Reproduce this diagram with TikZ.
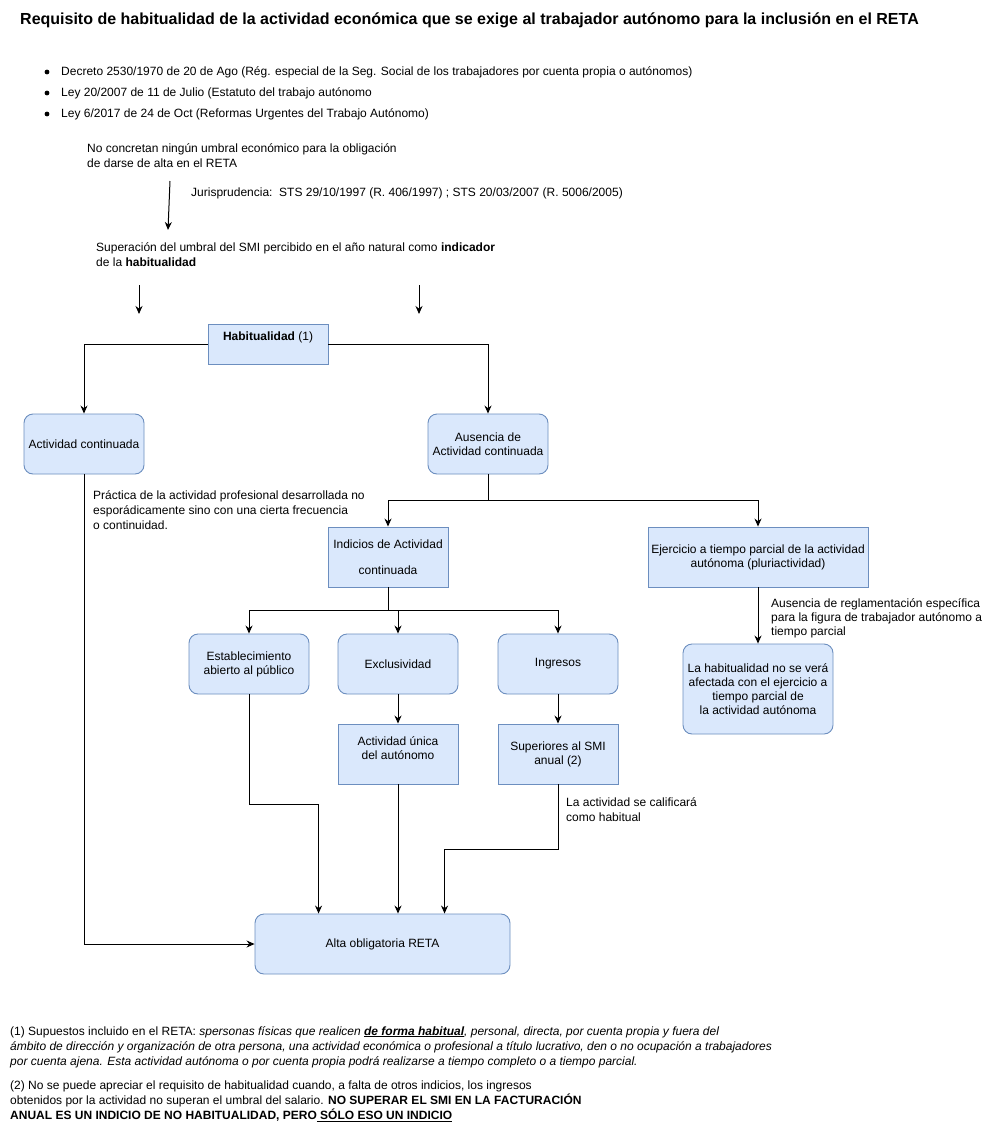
\documentclass[tikz,border=0pt]{standalone}
\usepackage{fontspec}
\setmainfont{Liberation Sans}
\usetikzlibrary{arrows.meta,calc}
\definecolor{boxfill}{HTML}{DAE8FC}
\definecolor{boxline}{HTML}{6C8EBF}
\begin{document}
\begin{tikzpicture}[x=1pt,y=-1pt,
  font=\fontsize{12}{15}\selectfont,
  sqbox/.style={draw=boxline,fill=boxfill,line width=0.9pt,minimum width=120pt,minimum height=60pt,inner sep=2pt,align=center,font=\fontsize{12}{14}\selectfont},
  rbox/.style={sqbox,rounded corners=9pt},
  arr/.style={-{Stealth[length=8pt,width=7pt]},line width=1pt},
  ln/.style={line width=1pt},
  txt/.style={inner sep=0pt,anchor=north west,align=left},
  bul/.style={inner sep=0pt,anchor=west},
  lbl/.style={align=center,inner sep=0pt,font=\fontsize{12}{14}\selectfont},
]
\fill[white] (0,0) rectangle (1002,1127);
\useasboundingbox (0,0) rectangle (1002,1127);

% title
\node[bul,font=\fontsize{16}{19}\selectfont\bfseries] (title) at (20,20) {Requisito de habitualidad de la actividad económica que se exige al trabajador autónomo para la inclusión en el RETA};

% bullets
\fill (47,72) circle (2.4);
\fill (47,93) circle (2.4);
\fill (47,114) circle (2.4);
\node[bul] (b1) at (61,72) {Decreto 2530/1970 de 20 de Ago (Rég. especial de la Seg. Social de los trabajadores por cuenta propia o autónomos)};
\node[bul] (b2) at (61,93) {Ley 20/2007 de 11 de Julio (Estatuto del trabajo autónomo};
\node[bul] (b3) at (61,114) {Ley 6/2017 de 24 de Oct (Reformas Urgentes del Trabajo Autónomo)};

% free texts
\node[txt] (nocon) at (87,143) {No concretan ningún umbral económico para la obligación\\de darse de alta en el RETA};
\node[bul] (juris) at (191,193) {Jurisprudencia:\ \ STS 29/10/1997 (R. 406/1997) ; STS 20/03/2007 (R. 5006/2005)};
\node[txt] (super) at (96,242) {Superación del umbral del SMI percibido en el año natural como \textbf{indicador}\\de la \textbf{habitualidad}};
\node[txt] (pract) at (93,490) {Práctica de la actividad profesional desarrollada no\\esporádicamente sino con una cierta frecuencia\\o continuidad.};
\node[txt] (calif) at (566,797) {La actividad se calificará\\como habitual};
\node[txt,font=\fontsize{12}{14}\selectfont] (regl) at (771,598) {Ausencia de reglamentación específica\\para la figura de trabajador autónomo a\\tiempo parcial};

% free arrows
\coordinate (a1s) at (170,181);
\coordinate (a1e) at (168,230);
\draw[arr] (a1s) -- (a1e);
\coordinate (a2s) at (139,285);
\coordinate (a2e) at (139,314);
\draw[arr] (a2s) -- (a2e);
\coordinate (a3s) at (419,285);
\coordinate (a3e) at (419,314);
\draw[arr] (a3s) -- (a3e);

% boxes
\node[sqbox,minimum height=40pt,label={[lbl,yshift=7pt]center:{\textbf{Habitualidad} (1)}}] (hab) at (268,344) {};
\node[rbox] (actc) at (84,444) {Actividad continuada};
\node[rbox] (aus) at (488,444) {Ausencia de\\Actividad continuada};
\node[sqbox] (ind) at (388,557) {Indicios de Actividad\\[12pt]continuada};
\node[sqbox,minimum width=220pt] (eje) at (758,557) {Ejercicio a tiempo parcial de la actividad\\autónoma (pluriactividad)};
\node[rbox] (est) at (249,664) {Establecimiento\\abierto al público};
\node[rbox] (exc) at (398,664) {Exclusividad};
\node[rbox] (ing) at (558,664) {Ingresos};
\node[sqbox,label={[lbl,yshift=6pt]center:{Actividad única\\del autónomo}}] (uni) at (398,754) {};
\node[sqbox] (sup) at (558,754) {Superiores al SMI\\anual (2)};
\node[rbox,minimum width=150pt,minimum height=90pt] (lahab) at (758,689) {La habitualidad no se verá\\afectada con el ejercicio a\\tiempo parcial de\\la actividad autónoma};
\node[rbox,minimum width=255pt] (alta) at (382.5,944) {Alta obligatoria RETA};

% connectors
\draw[arr] (hab.west) -| (actc.north);
\draw[arr] (hab.east) -| (aus.north);
\draw[arr] (actc.south) |- (alta.west);
\draw[ln] (aus.south) -- ++(0,26) coordinate (j1);
\draw[arr] (j1) -| (ind.north);
\draw[arr] (j1) -| (eje.north);
\draw[ln] (ind.south) -- ++(0,23) coordinate (j2);
\draw[arr] (j2) -| (est.north);
\draw[arr] (j2) -| (exc.north);
\draw[arr] (j2) -| (ing.north);
\draw[arr] (exc.south) -- (uni.north);
\draw[arr] (ing.south) -- (sup.north);
\draw[arr] (est.south) -- ++(0,110) -| ([xshift=64pt]alta.north west);
\draw[arr] (uni.south) -- (uni.south |- alta.north);
\draw[arr] (sup.south) -- ++(0,65) -| ([xshift=190pt]alta.north west);
\draw[arr] (eje.south) -- (lahab.north);

% footnotes
\node[txt] (fn1) at (10,1026) {(1) Supuestos incluido en el RETA: \textit{spersonas físicas que realicen \textbf{\underline{de forma habitual}}, personal, directa, por cuenta propia y fuera del}\\\textit{ámbito de dirección y organización de otra persona, una actividad económica o profesional a título lucrativo, den o no ocupación a trabajadores}\\\textit{por cuenta ajena. Esta actividad autónoma o por cuenta propia podrá realizarse a tiempo completo o a tiempo parcial.}};
\node[txt] (fn2) at (10,1081) {(2) No se puede apreciar el requisito de habitualidad cuando, a falta de otros indicios, los ingresos\\obtenidos por la actividad no superan el umbral del salario. \textbf{NO SUPERAR EL SMI EN LA FACTURACIÓN}\\\textbf{ANUAL ES UN INDICIO DE NO HABITUALIDAD, PERO\underline{\ SÓLO ESO UN INDICIO}}};
\end{tikzpicture}
\end{document}
